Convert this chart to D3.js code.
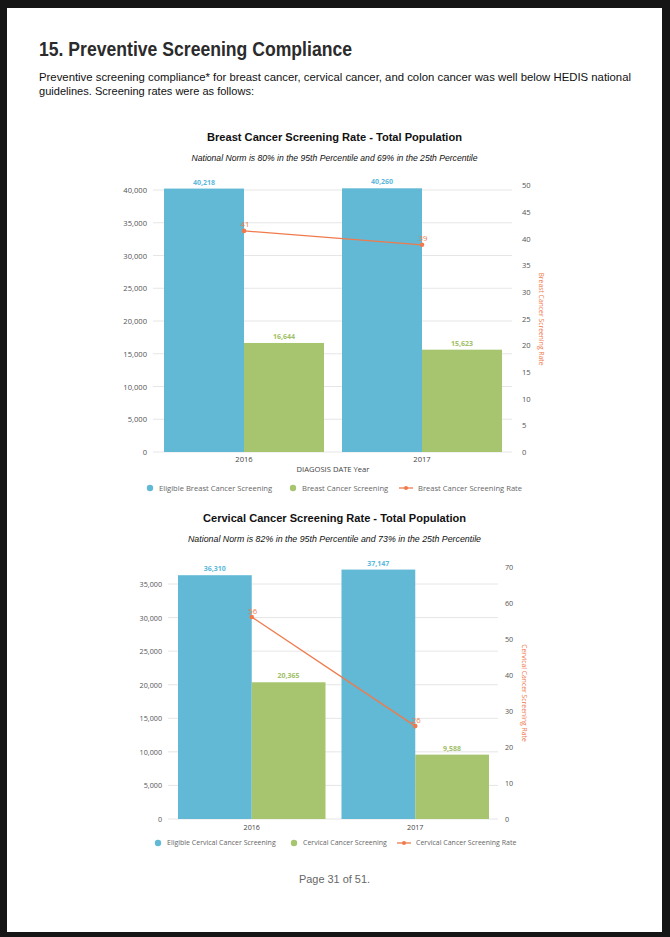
<!DOCTYPE html>
<html>
<head>
<meta charset="utf-8">
<script src="https://cdn.jsdelivr.net/npm/d3@7/dist/d3.min.js"></script>
<style>
  html, body { margin: 0; padding: 0; background: #111; }
  svg { display: block; }
</style>
</head>
<body>
<script>
// ---------------- DATA ----------------
const years = ["2016", "2017"];

const breastEligible = [40218, 40260];
const breastScreened = [16644, 15623];
const breastRate = [41.4, 38.8];
const breastLeftTicks = [0, 5000, 10000, 15000, 20000, 25000, 30000, 35000, 40000];
const breastRightTicks = [0, 5, 10, 15, 20, 25, 30, 35, 40, 45, 50];

const cervEligible = [36310, 37147];
const cervScreened = [20365, 9588];
const cervRate = [56.1, 25.8];
const cervLeftTicks = [0, 5000, 10000, 15000, 20000, 25000, 30000, 35000];
const cervRightTicks = [0, 10, 20, 30, 40, 50, 60, 70];

const pageTitle = "15. Preventive Screening Compliance";
const paraLines = [
  "Preventive screening compliance* for breast cancer, cervical cancer, and colon cancer was well below HEDIS national",
  "guidelines. Screening rates were as follows:"
];
const footer = "Page 31 of 51.";

// ---------------- STYLE ----------------
const BLUE = "#62b9d5", GREEN = "#a7c56f", ORANGE = "#f07a4c";
const BLUE_T = "#5cb8dc", GREEN_T = "#9fc067";
const CHART_FONT = "'Open Sans', Lato, sans-serif";
const PAGE_FONT = "'Liberation Sans', Arial, sans-serif";

const W = 670, H = 937;
const svg = d3.select("body").append("svg").attr("width", W).attr("height", H);

svg.append("rect").attr("width", W).attr("height", H).attr("fill", "#151515");
svg.append("rect").attr("x", 7).attr("y", 8).attr("width", 655).attr("height", 924).attr("fill", "#fff");

svg.append("text").attr("x", 39).attr("y", 56)
  .attr("font-family", PAGE_FONT).attr("font-weight", "bold").attr("font-size", 19.5)
  .attr("fill", "#2b2b2b").attr("textLength", 313).attr("lengthAdjust", "spacingAndGlyphs")
  .text(pageTitle);

svg.append("text").attr("x", 39).attr("y", 81)
  .attr("font-family", PAGE_FONT).attr("font-size", 11.5).attr("fill", "#111")
  .attr("textLength", 592).attr("lengthAdjust", "spacingAndGlyphs").text(paraLines[0]);
svg.append("text").attr("x", 39).attr("y", 95)
  .attr("font-family", PAGE_FONT).attr("font-size", 11.5).attr("fill", "#111")
  .attr("textLength", 215).attr("lengthAdjust", "spacingAndGlyphs").text(paraLines[1]);

svg.append("text").attr("x", 334.5).attr("y", 883).attr("text-anchor", "middle")
  .attr("font-family", PAGE_FONT).attr("font-size", 11).attr("fill", "#666")
  .attr("textLength", 71).attr("lengthAdjust", "spacingAndGlyphs").text(footer);

function drawChart(cfg) {
  const g = svg.append("g");
  const L = cfg.layout;
  const fs = L.fontSize;

  // titles
  g.append("text").attr("x", 334.5).attr("y", L.titleY).attr("text-anchor", "middle")
    .attr("font-family", PAGE_FONT).attr("font-weight", "bold").attr("font-size", 11.5)
    .attr("fill", "#111").attr("textLength", L.titleW).attr("lengthAdjust", "spacingAndGlyphs")
    .text(cfg.title);
  g.append("text").attr("x", 334.5).attr("y", L.subY).attr("text-anchor", "middle")
    .attr("font-family", PAGE_FONT).attr("font-style", "italic").attr("font-size", 8.5)
    .attr("fill", "#111").attr("textLength", L.subW).attr("lengthAdjust", "spacingAndGlyphs")
    .text(cfg.subtitle);

  const x = d3.scaleBand().domain(years).range([L.x0, L.x1]).padding(0);
  const sub = d3.scaleBand().domain(["eligible", "screened"])
    .range([L.groupPad, x.bandwidth() - L.groupPad]).padding(0);
  const yL = d3.scaleLinear().domain([0, L.leftRefVal]).range([L.y0, L.leftRefY]);
  const yR = d3.scaleLinear().domain([0, L.rightMax]).range([L.y0, L.rightTopY]);

  // grid lines
  g.append("g").selectAll("line").data(cfg.leftTicks).join("line")
    .attr("x1", L.x0 - 2).attr("x2", L.x1 + 1)
    .attr("y1", d => yL(d)).attr("y2", d => yL(d))
    .attr("stroke", "#e6e6e6").attr("stroke-width", 1);

  // left axis
  const la = g.append("g").attr("transform", `translate(${L.leftLabelX},0)`)
    .call(d3.axisLeft(yL).tickValues(cfg.leftTicks).tickSize(0).tickPadding(0).tickFormat(d3.format(",")));
  la.select(".domain").remove();
  la.selectAll("text").attr("font-family", CHART_FONT).attr("font-size", fs).attr("fill", "#555").attr("dy", "0.35em");

  // right axis
  const ra = g.append("g").attr("transform", `translate(${L.rightLabelX},0)`)
    .call(d3.axisRight(yR).tickValues(cfg.rightTicks).tickSize(0).tickPadding(0));
  ra.select(".domain").remove();
  ra.selectAll("text").attr("font-family", CHART_FONT).attr("font-size", fs).attr("fill", "#555").attr("dy", "0.35em");

  // right axis title
  g.append("text")
    .attr("transform", `translate(${L.rightTitleX},${L.rightTitleY}) rotate(90)`)
    .attr("text-anchor", "middle").attr("font-family", CHART_FONT).attr("font-size", 6.8)
    .attr("fill", ORANGE).text(cfg.rateName);

  // bars
  const groups = g.append("g").selectAll("g").data(years).join("g")
    .attr("transform", d => `translate(${x(d)},0)`);
  groups.append("rect")
    .attr("x", sub("eligible")).attr("width", sub.bandwidth())
    .attr("y", (d, i) => yL(cfg.eligible[i])).attr("height", (d, i) => L.y0 - yL(cfg.eligible[i]))
    .attr("fill", BLUE);
  groups.append("rect")
    .attr("x", sub("screened")).attr("width", sub.bandwidth())
    .attr("y", (d, i) => yL(cfg.screened[i])).attr("height", (d, i) => L.y0 - yL(cfg.screened[i]))
    .attr("fill", GREEN);

  const fmt = d3.format(",");
  groups.append("text")
    .attr("x", sub("eligible") + sub.bandwidth() / 2).attr("y", (d, i) => yL(cfg.eligible[i]) - 4)
    .attr("text-anchor", "middle").attr("font-family", CHART_FONT).attr("font-weight", "bold")
    .attr("font-size", 7).attr("fill", BLUE_T).text((d, i) => fmt(cfg.eligible[i]));
  groups.append("text")
    .attr("x", sub("screened") + sub.bandwidth() / 2).attr("y", (d, i) => yL(cfg.screened[i]) - 4)
    .attr("text-anchor", "middle").attr("font-family", CHART_FONT).attr("font-weight", "bold")
    .attr("font-size", 7).attr("fill", GREEN_T).text((d, i) => fmt(cfg.screened[i]));

  // x labels
  g.append("g").selectAll("text").data(years).join("text")
    .attr("x", d => x(d) + x.bandwidth() / 2).attr("y", L.xLabelY)
    .attr("text-anchor", "middle").attr("font-family", CHART_FONT).attr("font-size", fs)
    .attr("fill", "#444").text(d => d);
  if (cfg.xTitle) {
    g.append("text").attr("x", 333).attr("y", L.xTitleY).attr("text-anchor", "middle")
      .attr("font-family", CHART_FONT).attr("font-size", fs).attr("fill", "#444").text(cfg.xTitle);
  }

  // rate line
  const pts = years.map((d, i) => [x(d) + x.bandwidth() / 2, yR(cfg.rate[i])]);
  g.append("path").attr("d", d3.line()(pts)).attr("fill", "none")
    .attr("stroke", ORANGE).attr("stroke-width", 1.3);
  g.append("g").selectAll("circle").data(pts).join("circle")
    .attr("cx", d => d[0]).attr("cy", d => d[1]).attr("r", 2.3).attr("fill", ORANGE);
  g.append("g").selectAll("text").data(pts).join("text")
    .attr("x", d => d[0] + 1).attr("y", d => d[1] - 3.5).attr("text-anchor", "middle")
    .attr("font-family", CHART_FONT).attr("font-size", 7.8).attr("fill", ORANGE)
    .text((d, i) => Math.round(cfg.rate[i]));

  // legend
  const lg = g.append("g").attr("transform", `translate(0,${L.legendY})`);
  const items = [
    { name: cfg.eligibleName, type: "dot", color: BLUE, x: L.legX[0] },
    { name: cfg.screenedName, type: "dot", color: GREEN, x: L.legX[1] },
    { name: cfg.rateName, type: "line", color: ORANGE, x: L.legX[2] }
  ];
  items.forEach(it => {
    if (it.type === "dot") {
      lg.append("circle").attr("cx", it.x).attr("cy", 0).attr("r", 3.2).attr("fill", it.color);
    } else {
      lg.append("line").attr("x1", it.x - 7).attr("x2", it.x + 7).attr("y1", 0).attr("y2", 0)
        .attr("stroke", it.color).attr("stroke-width", 1.3);
      lg.append("circle").attr("cx", it.x).attr("cy", 0).attr("r", 2).attr("fill", it.color);
    }
    lg.append("text").attr("x", it.x + (it.type === "dot" ? 9 : 12)).attr("y", 0).attr("dy", "0.35em")
      .attr("font-family", CHART_FONT).attr("font-size", L.legendFont).attr("fill", "#666").text(it.name);
  });
}

drawChart({
  title: "Breast Cancer Screening Rate - Total Population",
  subtitle: "National Norm is 80% in the 95th Percentile and 69% in the 25th Percentile",
  eligibleName: "Eligible Breast Cancer Screening",
  screenedName: "Breast Cancer Screening",
  rateName: "Breast Cancer Screening Rate",
  xTitle: "DIAGOSIS DATE Year",
  eligible: breastEligible, screened: breastScreened, rate: breastRate,
  leftTicks: breastLeftTicks, rightTicks: breastRightTicks,
  layout: {
    titleY: 141, titleW: 255, subY: 161, subW: 286,
    x0: 155, x1: 511, groupPad: 9, y0: 452,
    leftRefVal: 40000, leftRefY: 190, rightMax: 50, rightTopY: 185,
    leftLabelX: 147, rightLabelX: 522, rightTitleX: 539, rightTitleY: 319,
    xLabelY: 462, xTitleY: 472, legendY: 488, legX: [150, 293, 406],
    fontSize: 7.6, legendFont: 7.6
  }
});

drawChart({
  title: "Cervical Cancer Screening Rate - Total Population",
  subtitle: "National Norm is 82% in the 95th Percentile and 73% in the 25th Percentile",
  eligibleName: "Eligible Cervical Cancer Screening",
  screenedName: "Cervical Cancer Screening",
  rateName: "Cervical Cancer Screening Rate",
  xTitle: null,
  eligible: cervEligible, screened: cervScreened, rate: cervRate,
  leftTicks: cervLeftTicks, rightTicks: cervRightTicks,
  layout: {
    titleY: 522, titleW: 263, subY: 542, subW: 293,
    x0: 170, x1: 497, groupPad: 8, y0: 819,
    leftRefVal: 35000, leftRefY: 584, rightMax: 70, rightTopY: 567,
    leftLabelX: 162, rightLabelX: 505, rightTitleX: 522, rightTitleY: 693,
    xLabelY: 830, xTitleY: 0, legendY: 843, legX: [158, 294, 404],
    fontSize: 7.2, legendFont: 7.0
  }
});
</script>
</body>
</html>
